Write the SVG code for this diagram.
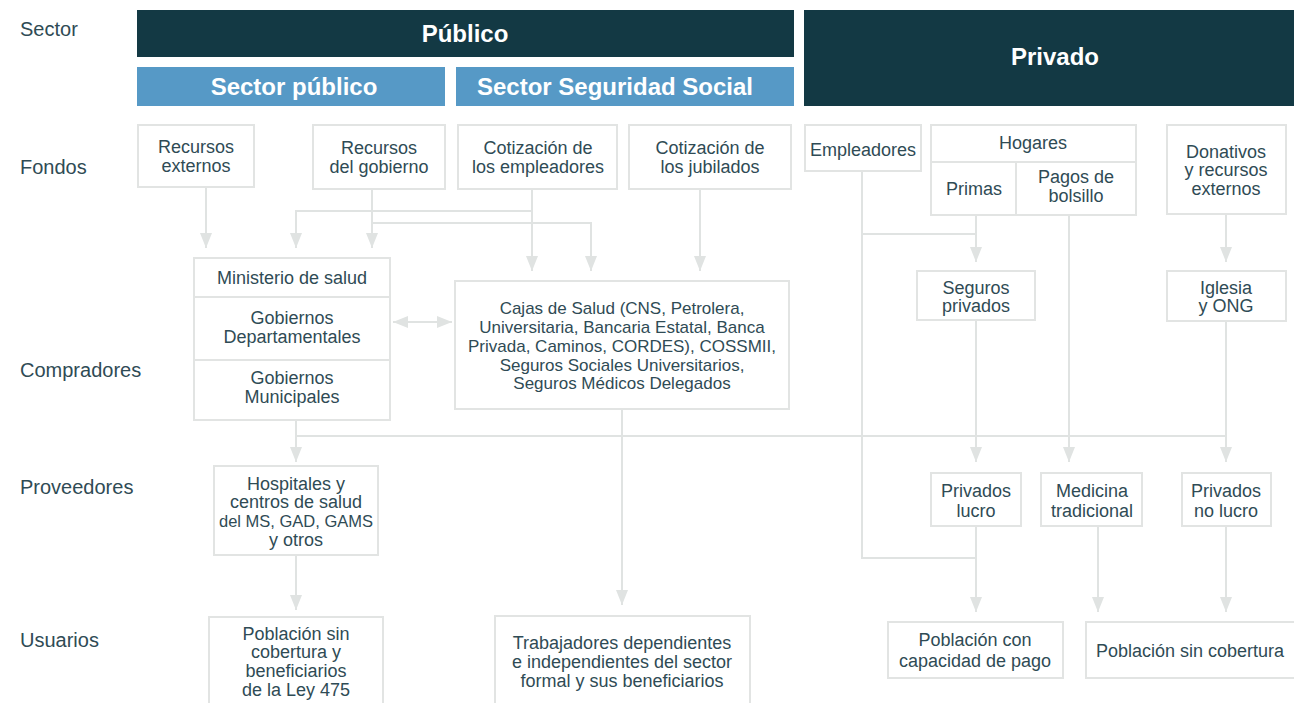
<svg xmlns="http://www.w3.org/2000/svg" width="1294" height="703" viewBox="0 0 1294 703">
<style>
.t{font-family:"Liberation Sans",Arial,sans-serif;font-size:18px;fill:#2f4b55;text-anchor:middle}
.s{font-size:17px}
.lab{font-family:"Liberation Sans",Arial,sans-serif;font-size:20px;fill:#2f4b55}
.h{font-family:"Liberation Sans",Arial,sans-serif;font-weight:bold;font-size:24px;fill:#ffffff;text-anchor:middle}
.box{fill:#ffffff;stroke:#e2e4e3;stroke-width:2}
.c{fill:none;stroke:#e0e3e2;stroke-width:2}
</style>
<defs>
<marker id="ar" markerUnits="userSpaceOnUse" markerWidth="15" markerHeight="12" refX="15" refY="6" orient="auto-start-reverse" viewBox="0 0 15 12">
<path d="M0,0 L15,6 L0,12 Z" fill="#e0e3e2"/>
</marker>
</defs>
<rect width="1294" height="703" fill="#ffffff"/>

<g id="row-labels">
<text class="lab" x="20" y="36">Sector</text>
<text class="lab" x="20" y="174">Fondos</text>
<text class="lab" x="20" y="377">Compradores</text>
<text class="lab" x="20" y="494">Proveedores</text>
<text class="lab" x="20" y="647">Usuarios</text>
</g>

<g id="headers">
<g id="publico"><rect x="137" y="10" width="657" height="47" fill="#133944"/><text class="h" x="465" y="42">Público</text></g>
<g id="privado"><rect x="804" y="10" width="490" height="96" fill="#133944"/><text class="h" x="1055" y="65">Privado</text></g>
<g id="sector-publico"><rect x="137" y="67" width="308" height="39" fill="#5699c6"/><text class="h" x="294" y="95">Sector público</text></g>
<g id="sector-ss"><rect x="456" y="67" width="338" height="39" fill="#5699c6"/><text class="h" x="615" y="95">Sector Seguridad Social</text></g>
</g>

<g id="connectors">
<path class="c" d="M206,187 V248" marker-end="url(#ar)"/>
<path class="c" d="M372,189 V248" marker-end="url(#ar)"/>
<path class="c" d="M532,211 H296 V248" marker-end="url(#ar)"/>
<path class="c" d="M372,223 H591 V271" marker-end="url(#ar)"/>
<path class="c" d="M532,189 V271" marker-end="url(#ar)"/>
<path class="c" d="M700,189 V271" marker-end="url(#ar)"/>
<path class="c" d="M393,322 H452" marker-start="url(#ar)" marker-end="url(#ar)"/>
<path class="c" d="M296,420 V462" marker-end="url(#ar)"/>
<path class="c" d="M296,436 H1226"/>
<path class="c" d="M622,409 V605" marker-end="url(#ar)"/>
<path class="c" d="M296,555 V610" marker-end="url(#ar)"/>
<path class="c" d="M862,171 V558 H976"/>
<path class="c" d="M862,234 H976"/>
<path class="c" d="M976,215 V262" marker-end="url(#ar)"/>
<path class="c" d="M976,320 V462" marker-end="url(#ar)"/>
<path class="c" d="M1069,215 V462" marker-end="url(#ar)"/>
<path class="c" d="M1226,214 V262" marker-end="url(#ar)"/>
<path class="c" d="M1226,321 V462" marker-end="url(#ar)"/>
<path class="c" d="M976,526 V612" marker-end="url(#ar)"/>
<path class="c" d="M1098,526 V612" marker-end="url(#ar)"/>
<path class="c" d="M1226,526 V612" marker-end="url(#ar)"/>
</g>

<g id="recursos-externos"><rect class="box" x="138" y="125" width="116" height="62"/><text class="t" x="196" y="153">Recursos</text><text class="t" x="196" y="172">externos</text></g>
<g id="recursos-gobierno"><rect class="box" x="313" y="125" width="132" height="64"/><text class="t" x="379" y="154">Recursos</text><text class="t" x="379" y="173">del gobierno</text></g>
<g id="cot-empleadores"><rect class="box" x="458" y="125" width="159" height="64"/><text class="t" x="538" y="154">Cotización de</text><text class="t" x="538" y="173">los empleadores</text></g>
<g id="cot-jubilados"><rect class="box" x="629" y="125" width="162" height="64"/><text class="t" x="710" y="154">Cotización de</text><text class="t" x="710" y="173">los jubilados</text></g>
<g id="empleadores"><rect class="box" x="805" y="125" width="116" height="46"/><text class="t" x="863" y="156">Empleadores</text></g>
<g id="hogares"><rect class="box" x="931" y="125" width="205" height="90"/><path class="box" d="M931,162 H1136 M1016,162 V215" fill="none"/><text class="t" x="1033" y="149">Hogares</text><text class="t" x="974" y="195">Primas</text><text class="t" x="1076" y="183">Pagos de</text><text class="t" x="1076" y="202">bolsillo</text></g>
<g id="donativos"><rect class="box" x="1167" y="125" width="119" height="89"/><text class="t" x="1226" y="158">Donativos</text><text class="t" x="1226" y="176">y recursos</text><text class="t" x="1226" y="195">externos</text></g>

<g id="ministerio"><rect class="box" x="194" y="258" width="196" height="162"/><path class="box" d="M194,297 H390 M194,360 H390" fill="none"/><text class="t" x="292" y="284">Ministerio de salud</text><text class="t" x="292" y="324">Gobiernos</text><text class="t" x="292" y="343">Departamentales</text><text class="t" x="292" y="384">Gobiernos</text><text class="t" x="292" y="403">Municipales</text></g>
<g id="cajas"><rect class="box" x="455" y="281" width="334" height="128"/><text class="t s" x="622" y="314">Cajas de Salud (CNS, Petrolera,</text><text class="t s" x="622" y="333">Universitaria, Bancaria Estatal, Banca</text><text class="t s" x="622" y="352">Privada, Caminos, CORDES), COSSMII,</text><text class="t s" x="622" y="371">Seguros Sociales Universitarios,</text><text class="t s" x="622" y="389">Seguros Médicos Delegados</text></g>
<g id="seguros-privados"><rect class="box" x="917" y="271" width="118" height="49"/><text class="t" x="976" y="294">Seguros</text><text class="t" x="976" y="312">privados</text></g>
<g id="iglesia"><rect class="box" x="1167" y="271" width="119" height="50"/><text class="t" x="1226" y="294">Iglesia</text><text class="t" x="1226" y="312">y ONG</text></g>

<g id="hospitales"><rect class="box" x="214" y="466" width="164" height="89"/><text class="t" x="296" y="490">Hospitales y</text><text class="t" x="296" y="508">centros de salud</text><text class="t" x="296" y="527" style="font-size:16.5px">del MS, GAD, GAMS</text><text class="t" x="296" y="546">y otros</text></g>
<g id="privados-lucro"><rect class="box" x="931" y="473" width="90" height="53"/><text class="t" x="976" y="497">Privados</text><text class="t" x="976" y="517">lucro</text></g>
<g id="medicina"><rect class="box" x="1041" y="473" width="101" height="53"/><text class="t" x="1092" y="497">Medicina</text><text class="t" x="1092" y="517">tradicional</text></g>
<g id="privados-no-lucro"><rect class="box" x="1182" y="473" width="89" height="53"/><text class="t" x="1226" y="497">Privados</text><text class="t" x="1226" y="517">no lucro</text></g>

<g id="poblacion-ley"><rect class="box" x="209" y="617" width="174" height="100"/><text class="t" x="296" y="640">Población sin</text><text class="t" x="296" y="658">cobertura y</text><text class="t" x="296" y="677">beneficiarios</text><text class="t" x="296" y="696">de la Ley 475</text></g>
<g id="trabajadores"><rect class="box" x="495" y="616" width="255" height="100"/><text class="t" x="622" y="649">Trabajadores dependientes</text><text class="t" x="622" y="668">e independientes del sector</text><text class="t" x="622" y="687">formal y sus beneficiarios</text></g>
<g id="poblacion-pago"><rect class="box" x="888" y="622" width="175" height="56"/><text class="t" x="975" y="646">Población con</text><text class="t" x="975" y="667">capacidad de pago</text></g>
<g id="poblacion-sin"><rect class="box" x="1086" y="622" width="210" height="56"/><text class="t" x="1190" y="657">Población sin cobertura</text></g>
</svg>
